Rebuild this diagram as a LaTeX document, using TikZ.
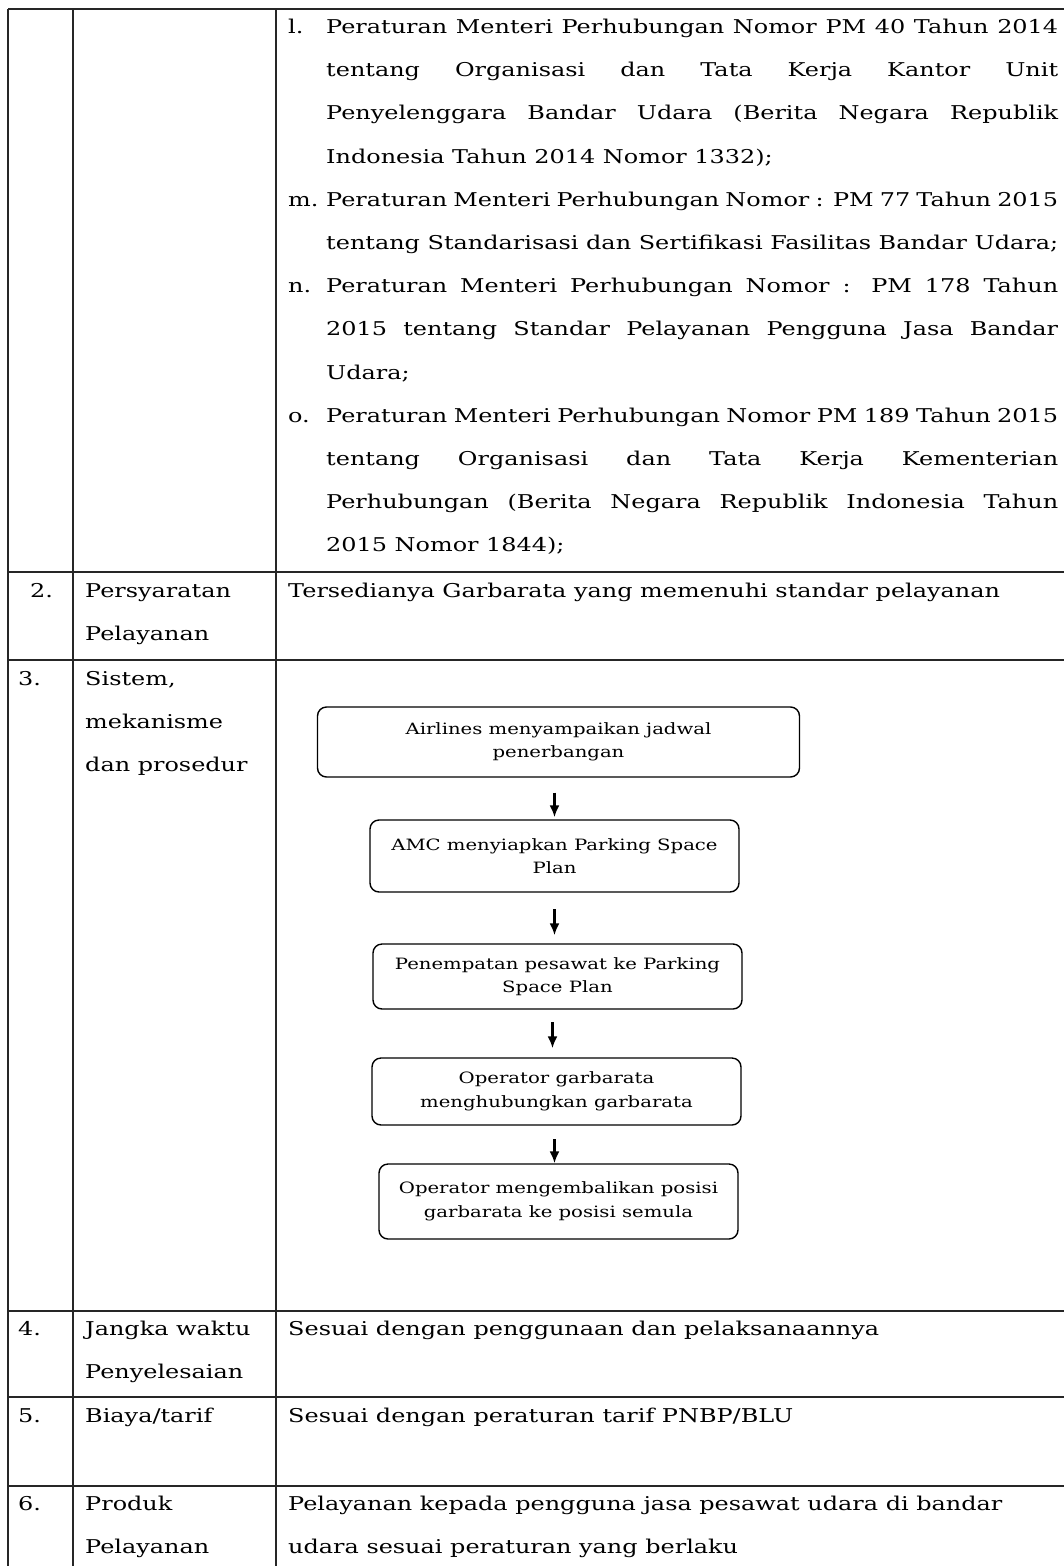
\documentclass[tikz,border=0pt]{standalone}
\usepackage{fontspec}
\setmainfont{DejaVu Serif}[FakeStretch=1.26]
\usetikzlibrary{arrows.meta}
\newcommand\mainsz{\fontsize{19}{43}\selectfont}
\newcommand\flowsz{\fontsize{15.6}{23.5}\selectfont}
\newcommand\jl[1]{\makebox[732pt][s]{#1}}
\begin{document}
\begin{tikzpicture}[x=1pt,y=-1pt,
  grid/.style={line width=1.8pt, color=black!85},
  vgrid/.style={line width=2.2pt, color=black!85},
  txt/.style={anchor=base west, inner sep=0pt, font=\mainsz},
  flow/.style={draw, rounded corners=9pt, line width=1.4pt, align=center, inner sep=0pt, font=\flowsz},
  arr/.style={-{Latex[length=12pt,width=10pt]}, line width=2.2pt}]
\useasboundingbox (0,0) rectangle (1064,1566);
% table lines
\draw[grid] (8,9) -- (1070,9);
\draw[grid] (8,572) -- (1070,572);
\draw[grid] (8,660) -- (1070,660);
\draw[grid] (8,1311) -- (1070,1311);
\draw[grid] (8,1397) -- (1070,1397);
\draw[grid] (8,1486) -- (1070,1486);
\draw[vgrid] (8,9) -- (8,1570);
\draw[vgrid] (73,9) -- (73,1570);
\draw[vgrid] (276,9) -- (276,1570);
% row 1 list
\node[txt] (ll) at (288,33) {l.};
\node[txt] (l1) at (326,33) {\jl{Peraturan Menteri Perhubungan Nomor PM 40 Tahun 2014}};
\node[txt] (l2) at (326,76) {\jl{tentang Organisasi dan Tata Kerja Kantor Unit}};
\node[txt] (l3) at (326,119) {\jl{Penyelenggara Bandar Udara (Berita Negara Republik}};
\node[txt] (l4) at (326,163) {Indonesia Tahun 2014 Nomor 1332);};
\node[txt] (ml) at (288,206) {m.};
\node[txt] (m1) at (326,206) {\jl{Peraturan Menteri Perhubungan Nomor : PM 77 Tahun 2015}};
\node[txt] (m2) at (326,249) {\jl{tentang Standarisasi dan Sertifikasi Fasilitas Bandar Udara;}};
\node[txt] (nl) at (288,292) {n.};
\node[txt] (n1) at (326,292) {\jl{Peraturan Menteri Perhubungan Nomor : PM 178 Tahun}};
\node[txt] (n2) at (326,335) {\jl{2015 tentang Standar Pelayanan Pengguna Jasa Bandar}};
\node[txt] (n3) at (326,379) {Udara;};
\node[txt] (ol) at (288,422) {o.};
\node[txt] (o1) at (326,422) {\jl{Peraturan Menteri Perhubungan Nomor PM 189 Tahun 2015}};
\node[txt] (o2) at (326,465) {\jl{tentang Organisasi dan Tata Kerja Kementerian}};
\node[txt] (o3) at (326,508) {\jl{Perhubungan (Berita Negara Republik Indonesia Tahun}};
\node[txt] (o4) at (326,551) {2015 Nomor 1844);};
% row 2
\node[txt] (n2a) at (30,597) {2.};
\node[txt] (c2a) at (85,597) {Persyaratan};
\node[txt] (c2b) at (85,640) {Pelayanan};
\node[txt] (d2) at (288,597) {Tersedianya Garbarata yang memenuhi standar pelayanan};
% row 3
\node[txt] (n3a) at (18,685) {3.};
\node[txt] (c3a) at (85,685) {Sistem,};
\node[txt] (c3b) at (85,728) {mekanisme};
\node[txt] (c3c) at (85,771) {dan prosedur};
% flowchart
\node[flow, minimum width=482pt, minimum height=70pt] (b1) at (558.5,742) {Airlines menyampaikan jadwal\\penerbangan};
\node[flow, minimum width=369pt, minimum height=72pt] (b2) at (554.5,856) {AMC menyiapkan Parking Space\\Plan};
\node[flow, minimum width=369pt, minimum height=65pt] (b3) at (557.5,976.5) {Penempatan pesawat ke Parking\\Space Plan};
\node[flow, minimum width=369pt, minimum height=67pt] (b4) at (556.5,1091.5) {Operator garbarata\\menghubungkan garbarata};
\node[flow, minimum width=359pt, minimum height=75pt] (b5) at (558.5,1201.5) {Operator mengembalikan posisi\\garbarata ke posisi semula};
\draw[arr] ([xshift=-4pt,yshift=-15pt]b1.south) -- ([xshift=-4pt,yshift=2pt]b1.south |- b2.north);
\draw[arr] ([xshift=-3pt,yshift=34pt]b3.north) -- ([xshift=-3pt,yshift=8pt]b3.north);
\draw[arr] ([xshift=-4pt,yshift=35pt]b4.north) -- ([xshift=-4pt,yshift=9pt]b4.north);
\draw[arr] ([xshift=-4pt,yshift=24pt]b5.north) -- ([xshift=-4pt]b5.north);
% row 4
\node[txt] (n4a) at (18,1335) {4.};
\node[txt] (c4a) at (85,1335) {Jangka waktu};
\node[txt] (c4b) at (85,1378) {Penyelesaian};
\node[txt] (d4) at (288,1335) {Sesuai dengan penggunaan dan pelaksanaannya};
% row 5
\node[txt] (n5a) at (18,1422) {5.};
\node[txt] (c5a) at (85,1422) {Biaya/tarif};
\node[txt] (d5) at (288,1422) {Sesuai dengan peraturan tarif PNBP/BLU};
% row 6
\node[txt] (n6a) at (18,1510) {6.};
\node[txt] (c6a) at (85,1510) {Produk};
\node[txt] (c6b) at (85,1553) {Pelayanan};
\node[txt] (d6a) at (288,1510) {Pelayanan kepada pengguna jasa pesawat udara di bandar};
\node[txt] (d6b) at (288,1553) {udara sesuai peraturan yang berlaku};
\end{tikzpicture}
\end{document}
